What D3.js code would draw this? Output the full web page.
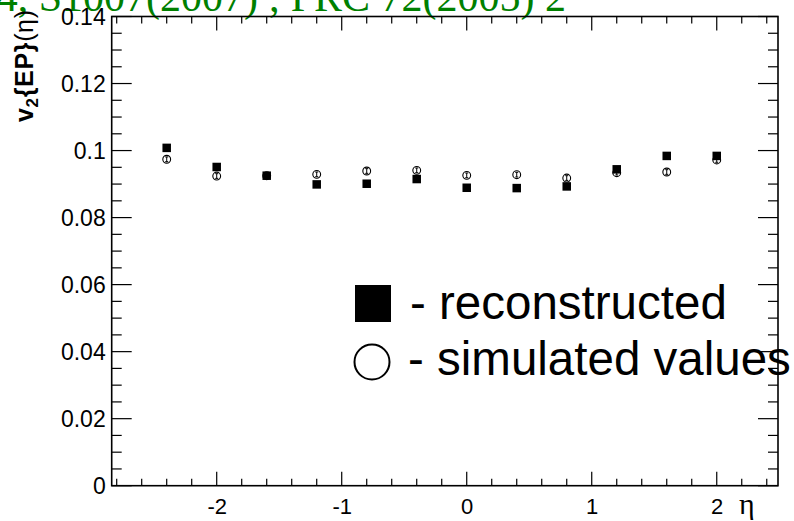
<!DOCTYPE html>
<html><head><meta charset="utf-8">
<script src="https://cdn.jsdelivr.net/npm/d3@7"></script>
<style>body{margin:0;background:#fff}svg{display:block}</style>
</head><body>
<svg id="c" width="794" height="521"></svg>
<script>
const eta = [-2.4,-2.0,-1.6,-1.2,-0.8,-0.4,0,0.4,0.8,1.2,1.6,2.0];
const reconstructed = [0.1008,0.0951,0.0925,0.0899,0.0901,0.0915,0.0889,0.0888,0.0893,0.0944,0.0984,0.0984];
const simulated = [0.0974,0.0924,0.0925,0.0929,0.0939,0.0941,0.0926,0.0928,0.0918,0.0934,0.0936,0.0972];
const simErr = [0.0007,0.0007,0.0007,0.0007,0.0007,0.0007,0.0007,0.0007,0.0007,0.0007,0.0007,0.0007];
const xTicks = [-2,-1,0,1,2];
const xTickLabels = ["-2","-1","0","1","2"];
const yTicks = [0,0.02,0.04,0.06,0.08,0.1,0.12,0.14];
const yTickLabels = ["0","0.02","0.04","0.06","0.08","0.1","0.12","0.14"];
const legendLabels = ["- reconstructed","- simulated values"];
const titleText = "J.Phys.G 34, S1007(2007) ; PRC 72(2005) 2";

const L=111.7,R=778,T=16.5,B=485.7;
const svg=d3.select("#c");
const x=d3.scaleLinear().domain([-2.84,2.49]).range([L,R]);
const y=d3.scaleLinear().domain([0,0.14]).range([B,T]);

svg.append("text").attr("x",566).attr("y",11).attr("text-anchor","end")
  .attr("font-family","Liberation Serif").attr("font-size",42).attr("fill","#008000").text(titleText);

const sans="Liberation Sans";
const xMinor=d3.range(-2.8,2.45,0.2).map(v=>+v.toFixed(2));
const yMinor=d3.range(0,0.1401,0.005).map(v=>+v.toFixed(3));
const g=svg.append("g").attr("stroke","#000").attr("stroke-width",1.2);
xMinor.forEach(v=>{
  const major=Math.abs(v-Math.round(v))<1e-6;
  const len=major?14:7;
  g.append("line").attr("x1",x(v)).attr("x2",x(v)).attr("y1",B).attr("y2",B-len);
  g.append("line").attr("x1",x(v)).attr("x2",x(v)).attr("y1",T).attr("y2",T+len);
});
yMinor.forEach(v=>{
  const major=Math.abs(v/0.02-Math.round(v/0.02))<1e-6;
  const len=major?20:10;
  g.append("line").attr("y1",y(v)).attr("y2",y(v)).attr("x1",L).attr("x2",L+len);
  g.append("line").attr("y1",y(v)).attr("y2",y(v)).attr("x1",R).attr("x2",R-len);
});
svg.append("rect").attr("x",L).attr("y",T).attr("width",R-L).attr("height",B-T)
  .attr("fill","none").attr("stroke","#000").attr("stroke-width",1.6);

const xa=svg.append("g").attr("transform",`translate(0,${B})`)
  .call(d3.axisBottom(x).tickValues(xTicks).tickSize(0).tickPadding(0).tickFormat((d,i)=>xTickLabels[i]));
xa.select(".domain").remove();
xa.selectAll("text").attr("font-family",sans).attr("font-size",22).attr("dy",null).attr("y",28).attr("fill","#000");
const ya=svg.append("g").attr("transform",`translate(${L},0)`)
  .call(d3.axisLeft(y).tickValues(yTicks).tickSize(0).tickPadding(0).tickFormat((d,i)=>yTickLabels[i]));
ya.select(".domain").remove();
ya.selectAll("text").attr("font-family",sans).attr("font-size",23).attr("x",-6).attr("dy","0.36em").attr("fill","#000");

svg.append("text").attr("x",739).attr("y",514).attr("font-family","Liberation Serif").attr("font-size",30).text("η");
const yt=svg.append("text").attr("transform","translate(33,10) rotate(-90)").attr("text-anchor","end")
  .attr("font-family",sans).attr("font-size",25).attr("textLength",112).attr("lengthAdjust","spacing");
yt.append("tspan").attr("font-weight","bold").text("v");
yt.append("tspan").attr("font-size",17).attr("font-weight","bold").attr("dy",5).text("2");
yt.append("tspan").attr("font-weight","bold").attr("dy",-5).text("{EP}");
yt.append("tspan").text("(η)");

const sz=8.5;
svg.append("g").selectAll("rect").data(eta).join("rect")
  .attr("x",(d)=>x(d)-sz/2).attr("y",(d,i)=>y(reconstructed[i])-sz/2)
  .attr("width",sz).attr("height",sz).attr("fill","#000");
const cg=svg.append("g").selectAll("g").data(eta).join("g");
cg.append("circle").attr("cx",d=>x(d)).attr("cy",(d,i)=>y(simulated[i])).attr("r",3.9)
  .attr("fill","none").attr("stroke","#000").attr("stroke-width",1.1);
cg.append("line").attr("x1",d=>x(d)).attr("x2",d=>x(d))
  .attr("y1",(d,i)=>y(simulated[i]-simErr[i])).attr("y2",(d,i)=>y(simulated[i]+simErr[i])).attr("stroke","#000");
[1,-1].forEach(s=>{
  cg.append("line").attr("x1",d=>x(d)-1.5).attr("x2",d=>x(d)+1.5)
    .attr("y1",(d,i)=>y(simulated[i]+s*simErr[i])).attr("y2",(d,i)=>y(simulated[i]+s*simErr[i])).attr("stroke","#000");
});

svg.append("rect").attr("x",355).attr("y",285).attr("width",36).attr("height",37).attr("fill","#000");
svg.append("circle").attr("cx",372).attr("cy",362).attr("r",17.5).attr("fill","none").attr("stroke","#000").attr("stroke-width",2);
svg.append("text").attr("x",410).attr("y",319).attr("font-family",sans).attr("font-size",47.5).text(legendLabels[0]);
svg.append("text").attr("x",408).attr("y",375).attr("font-family",sans).attr("font-size",47.5).text(legendLabels[1]);
</script>
</body></html>
